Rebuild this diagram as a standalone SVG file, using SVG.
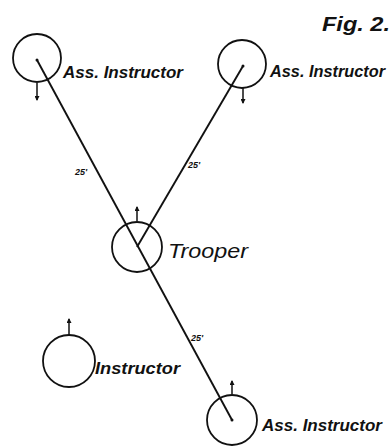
<svg xmlns="http://www.w3.org/2000/svg" width="391" height="446" viewBox="0 0 391 446">
<style>
.c{fill:none;stroke:#111;stroke-width:1.8}
.l{stroke:#111;stroke-width:1.9;fill:none}
.a{stroke:#111;stroke-width:1.5;fill:none;marker-end:url(#ah)}
.t{font-family:"Liberation Sans",Arial,sans-serif;font-style:italic;fill:#111}
.lab{font-size:16px;font-weight:bold}
.s{font-size:9px;font-weight:bold}
</style>
<defs>
<marker id="ah" viewBox="0 0 10 10" refX="8" refY="5" markerWidth="5" markerHeight="5" orient="auto" markerUnits="userSpaceOnUse">
<path d="M0,0 L10,5 L0,10 z" fill="#111"/>
</marker>
</defs>
<rect width="391" height="446" fill="#fff"/>
<text class="t" x="322" y="31" font-size="20" font-weight="bold" textLength="68" lengthAdjust="spacingAndGlyphs">Fig. 2.</text>
<g id="connectors">
<line class="l" x1="37" y1="60" x2="232" y2="420"/>
<line class="l" x1="243" y1="66" x2="137" y2="247"/>
<text class="t s" x="75" y="175">25'</text>
<text class="t s" x="188" y="168">25'</text>
<text class="t s" x="191" y="341">25'</text>
</g>
<g id="ass1">
<circle class="c" cx="37" cy="58" r="24"/>
<circle cx="37" cy="60" r="1.5" fill="#111"/>
<line class="a" x1="37" y1="83" x2="37" y2="100"/>
<text class="t lab" x="63" y="78" textLength="120" lengthAdjust="spacingAndGlyphs">Ass. Instructor</text>
</g>
<g id="ass2">
<circle class="c" cx="242" cy="64" r="24"/>
<circle cx="243" cy="66" r="1.5" fill="#111"/>
<line class="a" x1="243" y1="88" x2="243" y2="103"/>
<text class="t lab" x="270" y="77" textLength="115" lengthAdjust="spacingAndGlyphs">Ass. Instructor</text>
</g>
<g id="trooper">
<circle class="c" cx="137" cy="247" r="25"/>
<line class="a" x1="137" y1="221" x2="137" y2="207"/>
<text class="t" x="168" y="258" font-size="20" textLength="80" lengthAdjust="spacingAndGlyphs">Trooper</text>
</g>
<g id="instructor">
<circle class="c" cx="69" cy="361" r="26"/>
<line class="a" x1="69" y1="335" x2="69" y2="319"/>
<text class="t lab" x="95" y="374" textLength="85" lengthAdjust="spacingAndGlyphs">Instructor</text>
</g>
<g id="ass3">
<circle class="c" cx="232" cy="420" r="25"/>
<circle cx="232" cy="420" r="1.5" fill="#111"/>
<line class="a" x1="232" y1="394" x2="232" y2="381"/>
<text class="t lab" x="262" y="431" textLength="120" lengthAdjust="spacingAndGlyphs">Ass. Instructor</text>
</g>
</svg>
